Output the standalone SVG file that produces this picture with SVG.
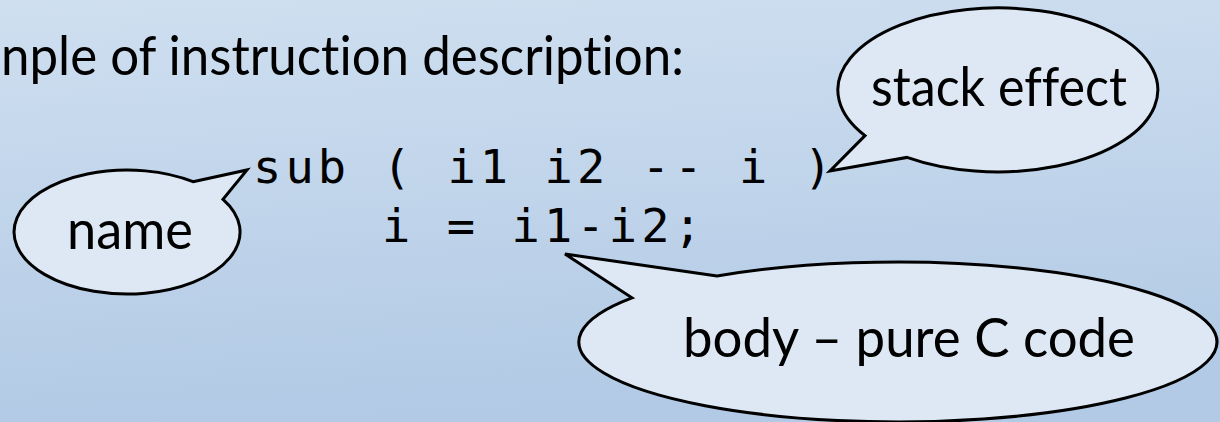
<svg xmlns="http://www.w3.org/2000/svg" width="1220" height="422" viewBox="0 0 1220 422">
<defs>
<linearGradient id="bg" x1="0" y1="0" x2="0.15" y2="1">
<stop offset="0" stop-color="#cfdff0"/>
<stop offset="1" stop-color="#b2cae5"/>
</linearGradient>
<style>
.t{font-family:Lato,"Open Sans","Liberation Sans",sans-serif;font-size:54px;font-weight:400;fill:#000;font-variant-ligatures:none;font-feature-settings:"liga" 0}
.code{font-family:"DejaVu Sans Mono","Liberation Mono",monospace;font-size:47px;letter-spacing:4.1px;fill:#000}
.bub{fill:#dde8f4;stroke:#000;stroke-width:3;stroke-linejoin:miter}
</style>
</defs>
<rect width="1220" height="422" fill="url(#bg)"/>
<g id="title">
<text class="t" x="1" y="75" textLength="683" lengthAdjust="spacingAndGlyphs">nple of instruction description:</text>
</g>
<g id="code">
<text class="code" x="253" y="183">sub ( i1 i2 -- i )</text>
<text class="code" x="382" y="242">i = i1-i2;</text>
</g>
<g id="connectors"></g>
<g id="bubble-name">
<path class="bub" d="M193,181.7 L247,170 L223,199.3 A113,62 0 1 1 193,181.7 Z"/>
<text class="t" x="130" y="249" text-anchor="middle" textLength="126" lengthAdjust="spacingAndGlyphs">name</text>
</g>
<g id="bubble-stack">
<path class="bub" d="M865,135.6 L830,171 L907,157.4 A160,82 0 1 0 865,135.6 Z"/>
<text class="t" x="999" y="106" text-anchor="middle" textLength="256" lengthAdjust="spacingAndGlyphs">stack effect</text>
</g>
<g id="bubble-body">
<path class="bub" d="M717,276.1 L565,254 L632,297.8 A319,80 0 1 0 717,276.1 Z"/>
<text class="t" x="909" y="357" text-anchor="middle" textLength="452" lengthAdjust="spacingAndGlyphs">body – pure C code</text>
</g>
</svg>
